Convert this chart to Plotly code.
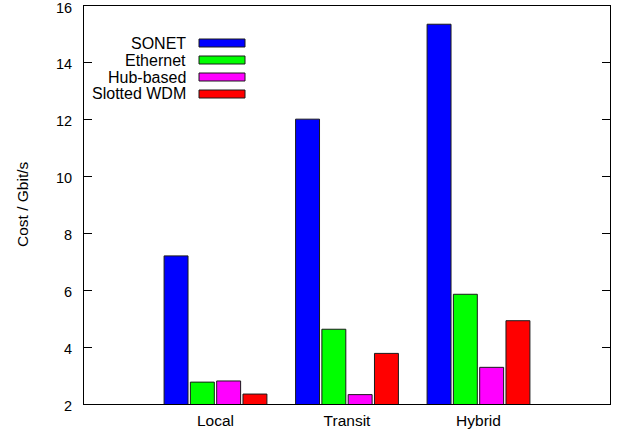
import plotly.graph_objects as go

categories = ["Local", "Transit", "Hybrid"]
series_names = ["SONET", "Ethernet", "Hub-based", "Slotted WDM"]
sonet = [7.21, 12.02, 15.36]
ethernet = [2.77, 4.63, 5.86]
hub_based = [2.81, 2.33, 3.29]
slotted_wdm = [2.35, 3.78, 4.93]
colors = ["#0000FF", "#00FF00", "#FF00FF", "#FF0000"]
y_ticks = [2, 4, 6, 8, 10, 12, 14, 16]
y_title = "Cost / Gbit/s"

FONT = "Liberation Sans, Arial, sans-serif"
FS = 15.5
W, H = 621, 434
L, R, T, B = 84, 11, 6, 30
pw, ph = W - L - R, H - T - B

fig = go.Figure()
xs = list(range(len(categories)))
for name, vals, col in zip(series_names, [sonet, ethernet, hub_based, slotted_wdm], colors):
    fig.add_trace(go.Bar(
        x=xs, y=vals, name=name, base=0,
        marker=dict(color=col, line=dict(color="#1a1a1a", width=1)),
        showlegend=False, hoverinfo="skip",
    ))

# custom legend: text right-aligned, swatch to its right
text_right_px = 188
sw_x0, sw_x1 = 199, 245
row_centers = [43, 60, 77, 94]
for name, col, cy in zip(series_names, colors, row_centers):
    fig.add_annotation(
        x=(text_right_px - L) / pw, y=(H - B - cy) / ph, xref="paper", yref="paper",
        text=name, showarrow=False, xanchor="right", yanchor="middle",
        font=dict(family=FONT, size=16, color="black"),
    )
    fig.add_shape(
        type="rect", xref="paper", yref="paper",
        x0=(sw_x0 - L) / pw, x1=(sw_x1 - L) / pw,
        y0=(H - B - cy - 4) / ph, y1=(H - B - cy + 4) / ph,
        fillcolor=col, line=dict(color="#1a1a1a", width=1),
    )

# y tick labels as annotations on the y scale (small downward nudge)
for v in y_ticks:
    fig.add_annotation(
        x=(74 - L) / pw, y=v, xref="paper", yref="y",
        text=str(v), showarrow=False, xanchor="right", yanchor="middle",
        yshift=-1.5, font=dict(family=FONT, size=14.5, color="black"),
    )

# y axis title
fig.add_annotation(
    x=(22 - L) / pw, y=(H - B - 204) / ph, xref="paper", yref="paper",
    text=y_title, textangle=-90, showarrow=False,
    xanchor="center", yanchor="middle",
    font=dict(family=FONT, size=FS, color="black"),
)

fig.update_layout(
    width=W, height=H,
    margin=dict(l=L, r=R, t=T, b=B, autoexpand=False),
    paper_bgcolor="white", plot_bgcolor="white",
    barmode="group", bargap=0.2, bargroupgap=0.09,
    font=dict(family=FONT, size=FS, color="black"),
    xaxis=dict(
        range=[-1, 3], tickvals=xs, ticktext=categories, ticks="",
        showline=True, linecolor="black", linewidth=1, mirror=True,
        showgrid=False, zeroline=False, fixedrange=True, automargin=False,
        ticklabeloverflow="allow", ticklabelstandoff=2,
    ),
    yaxis=dict(
        range=[2, 16.001], tickvals=y_ticks, ticks="inside", ticklen=8,
        tickcolor="black", showline=True, linecolor="black", linewidth=1,
        mirror="ticks", showgrid=False, zeroline=False, automargin=False,
        showticklabels=False,
    ),
)

fig.write_html(
    "out.html",
    config={"displayModeBar": False},
    post_script="document.body.style.margin='0';document.body.style.overflow='hidden';",
)
